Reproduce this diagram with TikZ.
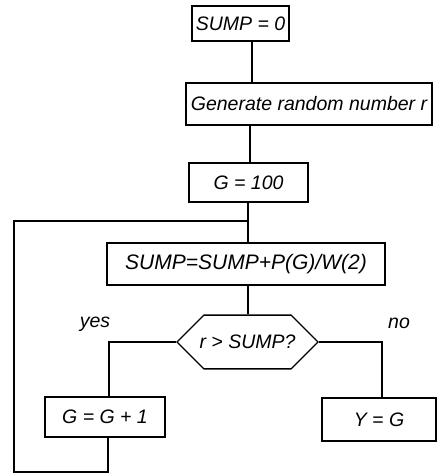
\documentclass[tikz,border=0pt]{standalone}
\usepackage{fontspec}
\setmainfont{Liberation Sans}
\usetikzlibrary{shapes.misc}
\begin{document}
\begin{tikzpicture}[x=1pt,y=-1pt,
  every node/.style={font=\fontsize{19.5}{22}\selectfont\itshape},
  box/.style={draw, line width=1.6pt, inner sep=0pt},
  hexbox/.style={draw, line width=1.4pt, inner sep=0pt, chamfered rectangle,
    chamfered rectangle xsep=13pt, chamfered rectangle ysep=20pt},
  link/.style={line width=1.1pt}]
\useasboundingbox (0,0) rectangle (437,474);

% process boxes
\node[box, minimum width=97pt, minimum height=35pt] (b1) at (240.5,23.5) {SUMP = 0};
\node[box, minimum width=246pt, minimum height=42pt] (b2) at (309,104) {Generate random number r};
\node[box, minimum width=119pt, minimum height=39pt] (b3) at (248.5,182.5) {G = 100};
\node[box, minimum width=278pt, minimum height=42pt,
  font=\fontsize{21}{24}\selectfont\itshape] (b4) at (246,264) {SUMP=SUMP+P(G)/W(2)};
\node[hexbox, minimum width=141pt, minimum height=40pt] (hx) at (247.5,342) {r > SUMP?};
\node[box, minimum width=120pt, minimum height=40pt] (b5) at (105,417) {G = G + 1};
\node[box, minimum width=114pt, minimum height=43pt] (b6) at (379,419.5) {Y = G};

% branch labels
\node (yes) at (95,324) {yes};
\node (no) at (399,323) {no};

% trunk and loop coordinates
\coordinate (t1) at (252,0);
\coordinate (t2) at (250,0);
\coordinate (j) at (248,221);
\coordinate (ly) at (109,0);
\coordinate (ln) at (382,0);
\coordinate (c1) at (108,472);
\coordinate (c2) at (14,472);
\coordinate (c3) at (14,221);

% main flow
\draw[link] (b1.south -| t1) -- (b2.north -| t1);
\draw[link] (b2.south -| t2) -- (b3.north -| t2);
\draw[link] (b3.south -| j) -- (b4.north -| j);
\draw[link] (b4.south -| j) -- (hx.north -| j);

% decision branches
\draw[link] (hx.west) -| (b5.north -| ly);
\draw[link] (hx.east) -| (b6.north -| ln);

% loop back
\draw[link] (b5.south -| c1) -- (c1) -- (c2) -- (c3) -- (j);
\end{tikzpicture}
\end{document}
